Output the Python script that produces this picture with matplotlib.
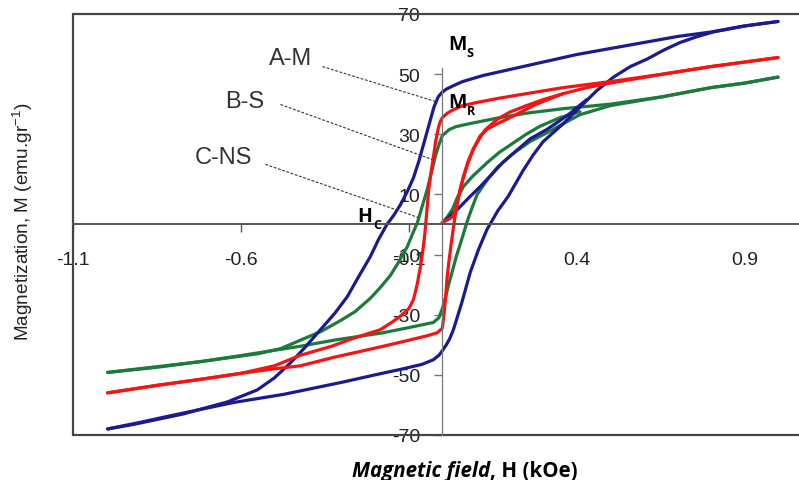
import matplotlib
matplotlib.use("Agg")
import matplotlib.pyplot as plt

plt.rcParams['font.family'] = ['Liberation Sans', 'DejaVu Sans']
plt.rcParams['axes.unicode_minus'] = False
plt.rcParams['mathtext.default'] = 'regular'

# A-M sample (blue): descending branch, ascending branch, virgin curve
am_up_h = [1.0, 0.9, 0.8, 0.7, 0.6, 0.5, 0.4, 0.3, 0.2, 0.12, 0.06, 0.03, 0.012, 0.0,
           -0.012, -0.025, -0.04, -0.055, -0.07, -0.086, -0.104, -0.125, -0.145, -0.165,
           -0.19, -0.214, -0.25, -0.283, -0.32, -0.363, -0.41, -0.452, -0.5, -0.551,
           -0.64, -0.771, -0.92, -0.997]
am_up_m = [67.5, 66, 64, 62.5, 60.5, 58.5, 56.5, 54, 51.5, 49.5, 47.5, 46, 45, 44,
           42.5, 39, 33, 27, 21, 15.5, 11, 6.5, 3, 0,
           -5, -10.6, -17.5, -24, -29.5, -35, -41, -46, -51, -55,
           -59, -63, -66.5, -68]
am_dn_h = [-0.997, -0.9, -0.818, -0.72, -0.622, -0.473, -0.3, -0.2, -0.125, -0.06, -0.027,
           -0.01, 0.0, 0.012, 0.022, 0.033, 0.058, 0.083, 0.108, 0.133, 0.165, 0.196,
           0.241, 0.27, 0.3, 0.33, 0.36, 0.41, 0.46, 0.51, 0.56, 0.61, 0.66, 0.708,
           0.76, 0.807, 0.9, 1.0]
am_dn_m = [-68, -65.8, -63.8, -61.5, -59.2, -56.5, -52.5, -50, -48.2, -46.5, -45,
           -43.5, -42, -40, -38, -35, -26, -16, -8.3, -1.7, 4.5, 9.3,
           18, 23, 27.5, 30.5, 33.5, 39, 44.5, 49, 52.5, 55, 58, 60.5,
           62.5, 64, 66, 67.5]
am_vir_h = [0.0, 0.02, 0.045, 0.08, 0.113, 0.15, 0.18, 0.22, 0.262, 0.31, 0.35, 0.381, 0.43]
am_vir_m = [0.5, 2.5, 5, 9, 12.6, 17, 20.6, 24.5, 28.5, 31.5, 34.5, 37, 41.5]

# B-S sample (red)
bs_up_h = [1.0, 0.9, 0.8, 0.658, 0.5, 0.36, 0.25, 0.17, 0.1, 0.06, 0.03, 0.015, 0.0,
           -0.007, -0.012, -0.02, -0.027, -0.034, -0.04, -0.044, -0.048, -0.052, -0.056,
           -0.065, -0.075, -0.086, -0.1, -0.125, -0.15, -0.185, -0.235, -0.274, -0.33,
           -0.423, -0.5, -0.6, -0.72, -0.85, -0.997]
bs_up_m = [55.5, 54, 52.5, 50, 47.5, 45.5, 43.5, 42, 40.5, 39.5, 38, 37, 35.5,
           34, 32, 27.5, 22, 17, 12, 7, 2, -3, -7,
           -14, -20, -25, -28, -30.5, -32.5, -35, -36.8, -38.2, -40.5,
           -43.5, -47, -49.5, -51.5, -53.5, -56]
bs_dn_h = [-0.997, -0.85, -0.72, -0.6, -0.5, -0.423, -0.324, -0.176, -0.1, -0.045, -0.015,
           0.0, 0.005, 0.01, 0.014, 0.02, 0.027, 0.032, 0.037, 0.043, 0.05, 0.06, 0.075,
           0.092, 0.113, 0.135, 0.164, 0.21, 0.28, 0.36, 0.43, 0.5, 0.658, 0.8, 0.9, 1.0]
bs_dn_m = [-56, -53.5, -51.5, -49.5, -48, -47, -44.2, -40.5, -38.5, -37, -36,
           -34.5, -30, -24, -18, -12, -6, -2, 2, 6, 10, 14.5, 20,
           25, 29.5, 31.8, 33.5, 36, 40, 43.5, 45.5, 47, 50, 52.5, 54, 55.5]
bs_vir_h = [0.0, 0.015, 0.03, 0.038, 0.045, 0.053, 0.063, 0.077, 0.092, 0.11, 0.128,
            0.164, 0.2, 0.25, 0.3, 0.36]
bs_vir_m = [0.7, 1.5, 2.5, 4.5, 7.3, 11.5, 16, 21, 25, 28.5, 31.5,
            35, 37.3, 39.5, 41.5, 43.5]

# C-NS sample (green)
cn_up_h = [1.0, 0.9, 0.8, 0.658, 0.5, 0.36, 0.25, 0.17, 0.08, 0.04, 0.02, 0.0,
           -0.01, -0.02, -0.032, -0.045, -0.06, -0.074, -0.09, -0.104, -0.13, -0.155,
           -0.185, -0.214, -0.26, -0.304, -0.36, -0.423, -0.482, -0.55, -0.72, -0.85, -0.997]
cn_up_m = [49, 47, 45.5, 42.5, 40, 38.5, 37, 35.5, 33.5, 32.5, 31.5, 29.5,
           26.5, 23, 17.5, 11.6, 6, 0.7, -3.5, -7.3, -12.5, -17,
           -21, -24.5, -29, -32, -35.5, -38.5, -41.3, -43, -45.6, -47.5, -49.2]
cn_dn_h = [-0.997, -0.85, -0.72, -0.6, -0.521, -0.423, -0.324, -0.176, -0.1, -0.027, -0.01,
           0.0, 0.01, 0.02, 0.03, 0.042, 0.055, 0.074, 0.09, 0.104, 0.135, 0.164, 0.21,
           0.26, 0.312, 0.36, 0.41, 0.5, 0.658, 0.8, 0.9, 1.0]
cn_dn_m = [-49.2, -47.3, -45.6, -43.6, -42.2, -40.5, -38.5, -36, -34.3, -32.6, -31,
           -28, -24, -19.5, -15.5, -10.5, -6, 1, 6, 10, 15, 19, 23.5,
           27.5, 30.5, 33.5, 36.5, 39.5, 42.5, 45.5, 47, 49]
cn_vir_h = [0.0, 0.015, 0.03, 0.045, 0.063, 0.09, 0.134, 0.17, 0.21, 0.25, 0.29, 0.35, 0.41]
cn_vir_m = [0.5, 2.5, 5, 9, 12.6, 16, 20.6, 24, 27, 30, 32.6, 35.5, 37.5]

x_ticks = [-1.1, -0.6, -0.1, 0.4, 0.9]
y_ticks = [-70, -50, -30, -10, 10, 30, 50, 70]

blue = '#1b1b8f'
red = '#f41414'
green = '#1e7a3c'
lw = 2.3

fig = plt.figure(figsize=(7.99, 4.81), dpi=100)
ax = fig.add_axes([0.0914, 0.0936, 0.9086, 0.8753])

for h, m, c in [(cn_up_h, cn_up_m, green), (cn_dn_h, cn_dn_m, green), (cn_vir_h, cn_vir_m, green),
                (am_up_h, am_up_m, blue), (am_dn_h, am_dn_m, blue), (am_vir_h, am_vir_m, blue),
                (bs_up_h, bs_up_m, red), (bs_dn_h, bs_dn_m, red), (bs_vir_h, bs_vir_m, red)]:
    ax.plot(h, m, color=c, lw=lw, solid_joinstyle='round', solid_capstyle='round')

ax.set_xlim(-1.1, 1.0625)
ax.set_ylim(-70, 70)

# axes crossing at zero
ax.spines['left'].set_position(('data', 0))
ax.spines['left'].set_bounds(-70, 52)
ax.spines['left'].set_color('#777777')
ax.spines['left'].set_linewidth(0.9)
ax.spines['bottom'].set_position(('data', 0))
ax.spines['bottom'].set_color('#555555')
ax.spines['bottom'].set_linewidth(1.4)
ax.spines['top'].set_visible(False)
ax.spines['right'].set_visible(False)

# outer frame (left, top, bottom)
ax.plot([1, 0, 0, 1], [1, 1, 0, 0], transform=ax.transAxes, color='#444444', lw=1.6,
        clip_on=False, solid_joinstyle='miter')

ax.set_xticks(x_ticks)
ax.set_xticklabels(['%.1f' % v for v in x_ticks])
ax.set_yticks(y_ticks)
ax.set_yticklabels([str(v) for v in y_ticks])
ax.tick_params(axis='x', direction='out', length=6, width=1, color='#555555',
               pad=13, labelsize=14, labelcolor='#222222')
ax.tick_params(axis='y', direction='out', length=6, width=1, color='#777777',
               pad=10, labelsize=14, labelcolor='#222222')
for i in (3, 4):
    ax.xaxis.get_major_ticks()[i].tick1line.set_visible(False)
ax.yaxis.get_major_ticks()[-1].tick1line.set_visible(False)

# sample labels with dotted pointers
ann = dict(fontsize=17, color='#333333', ha='center', va='center')
ax.text(-0.452, 55.4, 'A-M', **ann)
ax.text(-0.589, 41.1, 'B-S', **ann)
ax.text(-0.653, 22.4, 'C-NS', **ann)
dots = dict(color='#333333', lw=0.8, ls=(0, (2.5, 1.5)))
ax.plot([-0.357, -0.021], [52.5, 40.9], **dots)
ax.plot([-0.482, -0.030], [39.9, 21.6], **dots)
ax.plot([-0.527, -0.071], [20.0, 2.3], **dots)

# Ms, Mr, Hc
bold = dict(family='Open Sans', fontweight='bold', color='black', va='baseline')
ax.text(0.018, 58.2, 'M', fontsize=14, **bold)
ax.text(0.073, 56.0, 'S', fontsize=9, **bold)
ax.text(0.018, 38.9, 'M', fontsize=14, **bold)
ax.text(0.073, 36.7, 'R', fontsize=9, **bold)
ax.text(-0.253, 1.0, 'H', fontsize=14, **bold)
ax.text(-0.206, -1.2, 'C', fontsize=9, **bold)

fig.text(0.029, 0.5395, 'Magnetization, M (emu.gr$^{-1}$)', rotation=90, ha='center',
         va='center', fontsize=13.7, color='#222222')
fig.text(0.6135, 1 - 477 / 481, 'Magnetic field', family='Open Sans', fontweight='bold',
         style='italic', fontsize=14.8, ha='right', va='baseline', color='black')
fig.text(0.6135, 1 - 477 / 481, ', H (kOe)', family='Open Sans', fontweight='bold',
         fontsize=14.8, ha='left', va='baseline', color='black')

fig.savefig('out.png', dpi=100)
